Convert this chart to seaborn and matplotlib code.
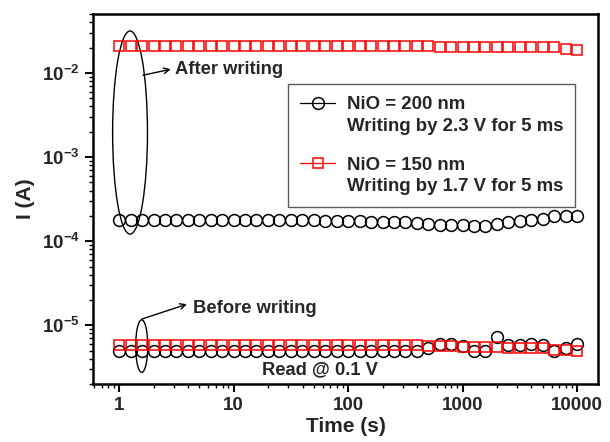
import numpy as np
import pandas as pd
import matplotlib
matplotlib.use('Agg')
import matplotlib.pyplot as plt
import seaborn as sns
from matplotlib.patches import Ellipse
from matplotlib.lines import Line2D
from matplotlib.ticker import LogLocator, FuncFormatter, NullFormatter

# retention data, 10 points per decade
times = [1, 1.26, 1.58, 2.0, 2.51, 3.16, 3.98, 5.01, 6.31, 7.94,
         10, 12.6, 15.8, 20, 25.1, 31.6, 39.8, 50.1, 63.1, 79.4,
         100, 126, 158, 200, 251, 316, 398, 501, 631, 794,
         1000, 1259, 1585, 1995, 2512, 3162, 3981, 5012, 6310, 7943, 10000]

nio200_on = [1.80e-4, 1.80e-4, 1.80e-4, 1.80e-4, 1.80e-4, 1.80e-4, 1.80e-4, 1.80e-4, 1.80e-4, 1.80e-4,
             1.79e-4, 1.79e-4, 1.79e-4, 1.79e-4, 1.78e-4, 1.78e-4, 1.78e-4, 1.77e-4, 1.75e-4, 1.74e-4,
             1.73e-4, 1.72e-4, 1.70e-4, 1.68e-4, 1.67e-4, 1.70e-4, 1.64e-4, 1.61e-4, 1.56e-4, 1.56e-4,
             1.54e-4, 1.53e-4, 1.53e-4, 1.61e-4, 1.67e-4, 1.74e-4, 1.80e-4, 1.86e-4, 1.97e-4, 2.00e-4, 2.00e-4]
nio200_off = [4.9e-6] * 27 + [5.4e-6, 6.0e-6, 6.0e-6, 5.6e-6, 5.0e-6, 5.0e-6, 7.3e-6,
                              5.9e-6, 5.9e-6, 6.0e-6, 5.8e-6, 5.0e-6, 5.3e-6, 6.0e-6]
nio150_on = [2.10e-2] * 28 + [2.03e-2] * 11 + [1.93e-2, 1.87e-2]
nio150_off = [5.9e-6] * 27 + [5.7e-6, 5.7e-6, 5.7e-6, 5.5e-6, 5.5e-6, 5.5e-6, 5.5e-6,
                              5.3e-6, 5.3e-6, 5.3e-6, 5.3e-6, 5.1e-6, 5.1e-6, 4.9e-6]

label_200 = ['NiO = 200 nm', 'Writing by 2.3 V for 5 ms']
label_150 = ['NiO = 150 nm', 'Writing by 1.7 V for 5 ms']

sns.set_style('ticks')
plt.rcParams['font.family'] = ['Liberation Sans', 'DejaVu Sans']
plt.rcParams['font.weight'] = 'bold'
plt.rcParams['axes.labelweight'] = 'bold'
plt.rcParams['mathtext.fontset'] = 'custom'
plt.rcParams['mathtext.rm'] = 'Liberation Sans:bold'
plt.rcParams['mathtext.bf'] = 'Liberation Sans:bold'
plt.rcParams['mathtext.it'] = 'Liberation Sans:bold:italic'

fig = plt.figure(figsize=(6.1, 4.42), dpi=100)
ax = fig.add_axes([0.1525, 0.131, 0.828, 0.837])

circ = dict(marker='o', markersize=8.5, markerfacecolor='none', markeredgecolor='black',
            markeredgewidth=1.1, linestyle='', color='black')
sqr = dict(marker='s', markersize=7.8, markerfacecolor='none', markeredgecolor='red',
           markeredgewidth=1.1, linestyle='', color='red')

for ys in [nio200_on, nio200_off]:
    sns.lineplot(x=times, y=ys, ax=ax, **circ)
for ys in [nio150_on, nio150_off]:
    sns.lineplot(x=times, y=ys, ax=ax, **sqr)

ax.set_xscale('log')
ax.set_yscale('log')
ax.set_xlim(0.59, 15300)
ax.set_ylim(2.0e-6, 5.0e-2)

ax.xaxis.set_major_locator(LogLocator(base=10))
ax.xaxis.set_minor_locator(LogLocator(base=10, subs=np.arange(2, 10)))
ax.xaxis.set_major_formatter(FuncFormatter(lambda v, p: f'{v:g}'))
ax.xaxis.set_minor_formatter(NullFormatter())
ax.yaxis.set_major_locator(LogLocator(base=10))
ax.yaxis.set_minor_locator(LogLocator(base=10, subs=np.arange(2, 10)))
ax.yaxis.set_major_formatter(FuncFormatter(lambda v, p: r'$\mathbf{10^{%d}}$' % round(np.log10(v))))
ax.yaxis.set_minor_formatter(NullFormatter())

for s in ax.spines.values():
    s.set_linewidth(1.8)
    s.set_color('black')
ax.tick_params(which='major', direction='out', length=6, width=1.5, labelsize=13.5, color='black')
ax.tick_params(which='minor', direction='out', length=3, width=1.0, color='black')

ax.set_xlabel('Time (s)', fontsize=15, fontweight='bold', labelpad=2)
ax.set_ylabel('I (A)', fontsize=15, fontweight='bold', labelpad=5)

# annotations
ax.add_patch(Ellipse((0.0733, 0.680), 0.069, 0.549, transform=ax.transAxes,
                     fill=False, edgecolor='black', lw=1.0))
ax.add_patch(Ellipse((0.0964, 0.1027), 0.024, 0.142, transform=ax.transAxes,
                     fill=False, edgecolor='black', lw=1.0))
ax.annotate('', xy=(0.154, 0.851), xytext=(0.099, 0.835), xycoords='axes fraction',
            arrowprops=dict(arrowstyle='->', lw=1.0, color='black', shrinkA=0, shrinkB=0))
ax.text(0.1624, 0.851, 'After writing', transform=ax.transAxes, fontsize=13.2,
        fontweight='bold', va='center', ha='left')
ax.annotate('', xy=(0.186, 0.216), xytext=(0.0964, 0.1757), xycoords='axes fraction',
            arrowprops=dict(arrowstyle='->', lw=1.0, color='black', shrinkA=0, shrinkB=0))
ax.text(0.198, 0.205, 'Before writing', transform=ax.transAxes, fontsize=13.2,
        fontweight='bold', va='center', ha='left')
ax.text(0.4495, 0.038, 'Read @ 0.1 V', transform=ax.transAxes, fontsize=13.2,
        fontweight='bold', va='center', ha='center')

h200 = Line2D([], [], color='black', lw=0.9, marker='o', markersize=8.5,
              markerfacecolor='none', markeredgecolor='black', markeredgewidth=1.1)
h150 = Line2D([], [], color='red', lw=0.9, marker='s', markersize=7.8,
              markerfacecolor='none', markeredgecolor='red', markeredgewidth=1.1)
blank = Line2D([], [], linestyle='none')
# trailing newline on the first group's second line opens the gap between groups
labels = [label_200[0], label_200[1] + '\n', label_150[0], label_150[1]]
leg = ax.legend([h200, blank, h150, blank], labels,
                loc='upper left', bbox_to_anchor=(0.386, 0.8108), borderaxespad=0,
                frameon=True, fancybox=False, edgecolor='#333333',
                handlelength=1.9, handletextpad=0.6, labelspacing=0.25, borderpad=0.65,
                prop={'weight': 'bold', 'size': 13.4})
leg.get_texts()[1].set_linespacing(1.0)
leg.get_frame().set_linewidth(1.0)

fig.savefig('out.png', dpi=100)
